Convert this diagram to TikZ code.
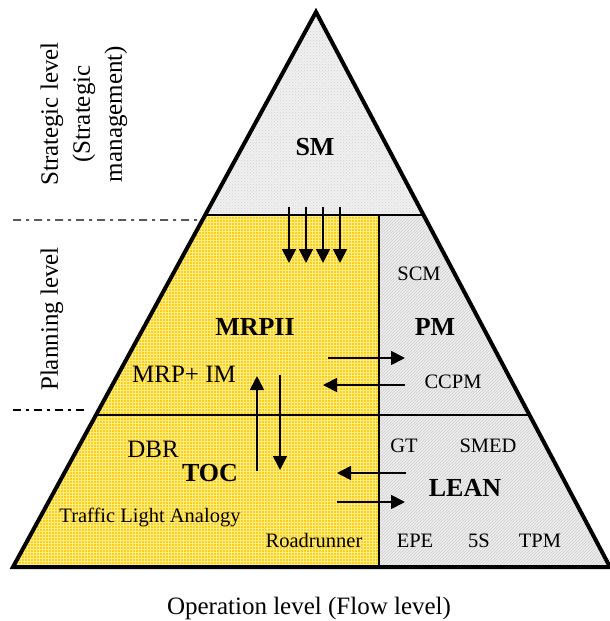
\documentclass[tikz,border=0pt]{standalone}
\usepackage{fontspec}
\setmainfont{Liberation Serif}
\usetikzlibrary{arrows.meta,calc,patterns}

\definecolor{tocyellow}{RGB}{255,208,20}
\definecolor{tocgrid}{RGB}{255,236,140}
\definecolor{leangray}{RGB}{238,238,238}
\definecolor{leanhatch}{RGB}{206,206,206}
\definecolor{smgray}{RGB}{240,240,240}

\begin{document}
\begin{tikzpicture}[x=1pt, y=-1pt,
    lbl/.style={font=\fontsize{20.5}{24}\selectfont, anchor=base, inner sep=0pt},
    biglbl/.style={font=\fontsize{25}{32}\selectfont, inner sep=0pt},
    head/.style={font=\bfseries\fontsize{26}{30}\selectfont, anchor=base, inner sep=0pt},
    flow/.style={-{Triangle[length=14pt,width=14pt]}, line width=1.7pt},
    levelline/.style={line width=1.3pt, dash pattern=on 8pt off 5pt on 3pt off 5pt},
]
    \useasboundingbox (0,0) rectangle (610,621);

    % Pyramid corners and level cuts
    \coordinate (apex) at (316,12);
    \coordinate (bl) at (13,567);
    \coordinate (br) at (610,567);
    \coordinate (tl) at ($(apex)!0.3658!(bl)$);
    \coordinate (tr) at ($(apex)!0.3658!(br)$);
    \coordinate (ml) at ($(apex)!0.7261!(bl)$);
    \coordinate (mr) at ($(apex)!0.7261!(br)$);
    \coordinate (vt) at (379,215);
    \coordinate (vb) at (379,567);

    % Filled areas
    \path[fill=smgray, postaction={pattern=crosshatch dots, pattern color=gray!35}]
        (apex) -- (tl) -- (tr) -- cycle;
    \path[fill=tocyellow, postaction={pattern=grid, pattern color=tocgrid}]
        (tl) -- (vt) -- (vb) -- (bl) -- cycle;
    \path[fill=leangray, postaction={pattern=north east lines, pattern color=leanhatch}]
        (vt) -- (tr) -- (br) -- (vb) -- cycle;

    % Inner borders and outline
    \draw[line width=2pt] (tl) -- (tr);
    \draw[line width=2pt] (ml) -- (mr);
    \draw[line width=2pt] (vt) -- (vb);
    \draw[line width=4pt, line join=miter] (apex) -- (bl) -- (br) -- cycle;

    % Level separators
    \coordinate (lvA) at (13,220);
    \coordinate (lvB) at ($(apex)!0.3748!(bl)$);
    \coordinate (lvC) at (13,410);
    \coordinate (lvD) at (88,410);
    \draw[levelline] (lvA) -- (lvB);
    \draw[levelline] (lvC) -- (lvD);

    % Level labels
    \node[biglbl, rotate=90, align=center] (strategic) at (84,114)
        {Strategic level\\(Strategic\\management)};
    \node[biglbl, rotate=90] (planning) at (52,319) {Planning level};
    \node[biglbl, anchor=base] (operation) at (309,614) {Operation level (Flow level)};

    % Method labels
    \node[head] (sm) at (315,155) {SM};
    \node[head] (mrp) at (255,335) {MRPII};
    \node[head] (pm) at (435,335) {PM};
    \node[lbl] (scm) at (419,280) {SCM};
    \node[lbl] (ccpm) at (453,388) {CCPM};
    \node[biglbl, anchor=base] (mrpim) at (184,382) {MRP+ IM};
    \node[biglbl, anchor=base] (dbr) at (153,457) {DBR};
    \node[head] (toc) at (210,481) {TOC};
    \node[lbl] (traffic) at (150,522) {Traffic Light Analogy};
    \node[lbl] (road) at (314,547) {Roadrunner};
    \node[lbl] (gt) at (404,452) {GT};
    \node[lbl] (smed) at (488,452) {SMED};
    \node[head] (lean) at (465,496) {LEAN};
    \node[lbl] (epe) at (415,547) {EPE};
    \node[lbl] (fives) at (479,547) {5S};
    \node[lbl] (tpm) at (540,547) {TPM};

    % Strategy down to planning
    \coordinate (sa1) at (289,207);
    \coordinate (sb1) at (289,263);
    \coordinate (sa2) at (306,207);
    \coordinate (sb2) at (306,263);
    \coordinate (sa3) at (323,207);
    \coordinate (sb3) at (323,263);
    \coordinate (sa4) at (340,207);
    \coordinate (sb4) at (340,263);
    \draw[flow] (sa1) -- (sb1);
    \draw[flow] (sa2) -- (sb2);
    \draw[flow] (sa3) -- (sb3);
    \draw[flow] (sa4) -- (sb4);

    % MRPII <-> PM
    \coordinate (mpA) at (328,358);
    \coordinate (mpB) at (405,358);
    \coordinate (pmA) at (405,385);
    \coordinate (pmB) at (323,385);
    \draw[flow] (mpA) -- (mpB);
    \draw[flow] (pmA) -- (pmB);

    % MRPII <-> TOC
    \coordinate (upA) at (257,471);
    \coordinate (upB) at (257,376);
    \coordinate (dnA) at (280,375);
    \coordinate (dnB) at (280,470);
    \draw[flow] (upA) -- (upB);
    \draw[flow] (dnA) -- (dnB);

    % TOC <-> LEAN
    \coordinate (lnA) at (406,473);
    \coordinate (lnB) at (337,473);
    \coordinate (tcA) at (337,502);
    \coordinate (tcB) at (405,502);
    \draw[flow] (lnA) -- (lnB);
    \draw[flow] (tcA) -- (tcB);
\end{tikzpicture}
\end{document}
